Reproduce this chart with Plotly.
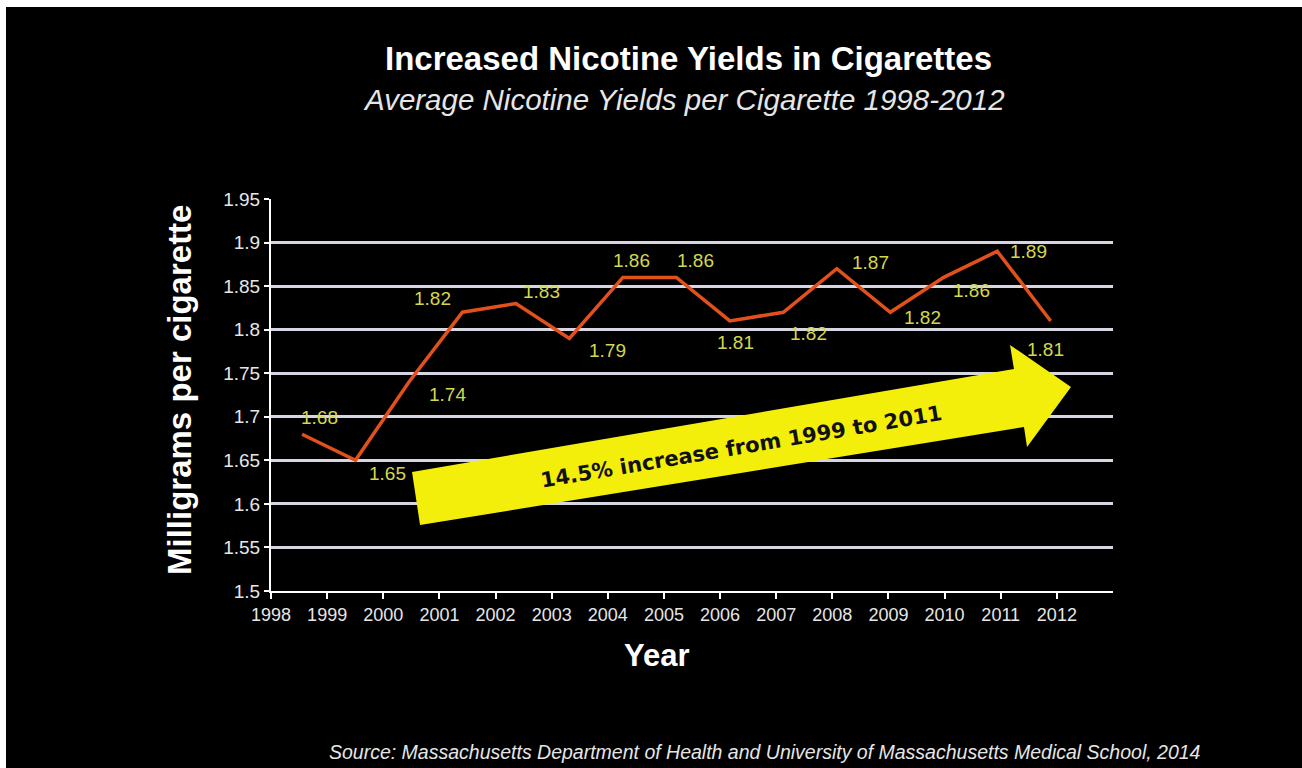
import plotly.graph_objects as go

# ---- data -------------------------------------------------------------
years = list(range(1998, 2013))
nicotine_mg = [1.68, 1.65, 1.74, 1.82, 1.83, 1.79, 1.86, 1.86,
               1.81, 1.82, 1.87, 1.82, 1.86, 1.89, 1.81]
x_tick_labels = [str(y) for y in years]
y_tick_values = [1.5, 1.55, 1.6, 1.65, 1.7, 1.75, 1.8, 1.85, 1.9, 1.95]
y_tick_labels = ["1.5", "1.55", "1.6", "1.65", "1.7", "1.75", "1.8", "1.85", "1.9", "1.95"]

# label offsets (pixels) for each value label: (dx, dy) with dy up
label_offsets = [(17, 17), (32, -13), (39, -13), (-30, 14), (26, 12), (38, -12),
                 (9, 17), (19, 17), (6, -22), (25, -21), (34, 6), (32, -5),
                 (28, -13), (31, 0), (-5, -29)]

# ---- geometry ---------------------------------------------------------
W_FIG, H_FIG = 1302, 768
L, R, T, B = 271, 189, 199, 177
PW, PH = W_FIG - L - R, H_FIG - T - B


def fx(px):
    return (px - L) / PW


def fy(py):
    return (H_FIG - B - py) / PH


LABEL_COLOR = "#d3d84c"
LINE_COLOR = "#e2501c"
GRID_COLOR = "#d6d6e2"
TEXT_COLOR = "#e6e6e6"
FONT = "Liberation Sans, Arial"

fig = go.Figure()

# empty trace that keeps the year-tick axis pair on the page
fig.add_trace(go.Scatter(x=[], y=[], xaxis="x", yaxis="y", showlegend=False,
                         hoverinfo="skip"))

fig.add_trace(go.Scatter(
    x=years, y=nicotine_mg, xaxis="x2", yaxis="y",
    mode="lines", line=dict(color=LINE_COLOR, width=3.5),
    hoverinfo="x+y", showlegend=False,
))

annotations = []
for yr, v, (dx, dy) in zip(years, nicotine_mg, label_offsets):
    annotations.append(dict(
        x=yr, y=v, xref="x2", yref="y", text=f"{v:.2f}", showarrow=False,
        xshift=dx, yshift=dy, xanchor="center", yanchor="middle",
        font=dict(family=FONT, size=19, color=LABEL_COLOR),
    ))


def page_text(px, py, text, size, color, angle=0, family=FONT):
    return dict(x=fx(px), y=fy(py), xref="paper", yref="paper", showarrow=False,
                xanchor="center", yanchor="middle", text=text, textangle=angle,
                font=dict(family=family, size=size, color=color))


# titles, axis titles, source line and arrow caption
annotations += [
    page_text(688, 58, "<b>Increased Nicotine Yields in Cigarettes</b>", 33, "white"),
    page_text(684, 99, "<i>Average Nicotine Yields per Cigarette 1998-2012</i>", 29.5, TEXT_COLOR),
    page_text(765, 752, "<i>Source: Massachusetts Department of Health and University of "
                        "Massachusetts Medical School, 2014</i>", 19.5, TEXT_COLOR),
    page_text(179, 390, "<b>Milligrams per cigarette</b>", 33, "white", angle=-90),
    page_text(657, 655, "<b>Year</b>", 31, "white"),
    page_text(741, 447, "<b>14.5% increase from 1999 to 2011</b>", 21, "#111111",
              angle=-9.6, family="DejaVu Sans, Verdana"),
]

# yellow trend arrow
arrow_pts = [(412, 472), (1014, 369), (1010, 345), (1071, 387),
             (1027, 447), (1024, 427), (420, 525)]
arrow_path = "M " + " L ".join(f"{fx(px):.4f},{fy(py):.4f}" for px, py in arrow_pts) + " Z"

shapes = [
    dict(type="path", path=arrow_path, xref="paper", yref="paper",
         fillcolor="#f4ef0a", line=dict(width=0), layer="above"),
    # white page edge along the top and left
    dict(type="rect", xref="paper", yref="paper", x0=fx(0), x1=fx(W_FIG),
         y0=fy(7), y1=fy(0), fillcolor="white", line=dict(width=0), layer="above"),
    dict(type="rect", xref="paper", yref="paper", x0=fx(0), x1=fx(6),
         y0=fy(H_FIG), y1=fy(0), fillcolor="white", line=dict(width=0), layer="above"),
]

fig.update_layout(
    width=W_FIG, height=H_FIG,
    margin=dict(l=L, r=R, t=T, b=B, pad=0),
    paper_bgcolor="black", plot_bgcolor="black",
    showlegend=False,
    xaxis=dict(
        range=[1998, 2013], tickmode="array",
        tickvals=years, ticktext=x_tick_labels,
        ticks="outside", ticklen=6, tickwidth=2, tickcolor="white",
        showgrid=False, zeroline=False,
        showline=True, linecolor="white", linewidth=2,
        tickfont=dict(family=FONT, size=18, color=TEXT_COLOR),
        fixedrange=True,
    ),
    xaxis2=dict(
        overlaying="x", range=[1997.42, 2013.165], visible=False, fixedrange=True,
    ),
    yaxis=dict(
        range=[1.5, 1.95], tickmode="array",
        tickvals=y_tick_values, ticktext=y_tick_labels,
        ticks="outside", ticklen=5, tickwidth=2, tickcolor="white",
        showgrid=True, gridcolor=GRID_COLOR, gridwidth=2.5,
        zeroline=False, showline=True, linecolor="white", linewidth=2,
        tickfont=dict(family=FONT, size=19, color=TEXT_COLOR),
        fixedrange=True,
    ),
    annotations=annotations,
    shapes=shapes,
)

fig.write_html("out.html", config={"displayModeBar": False})
